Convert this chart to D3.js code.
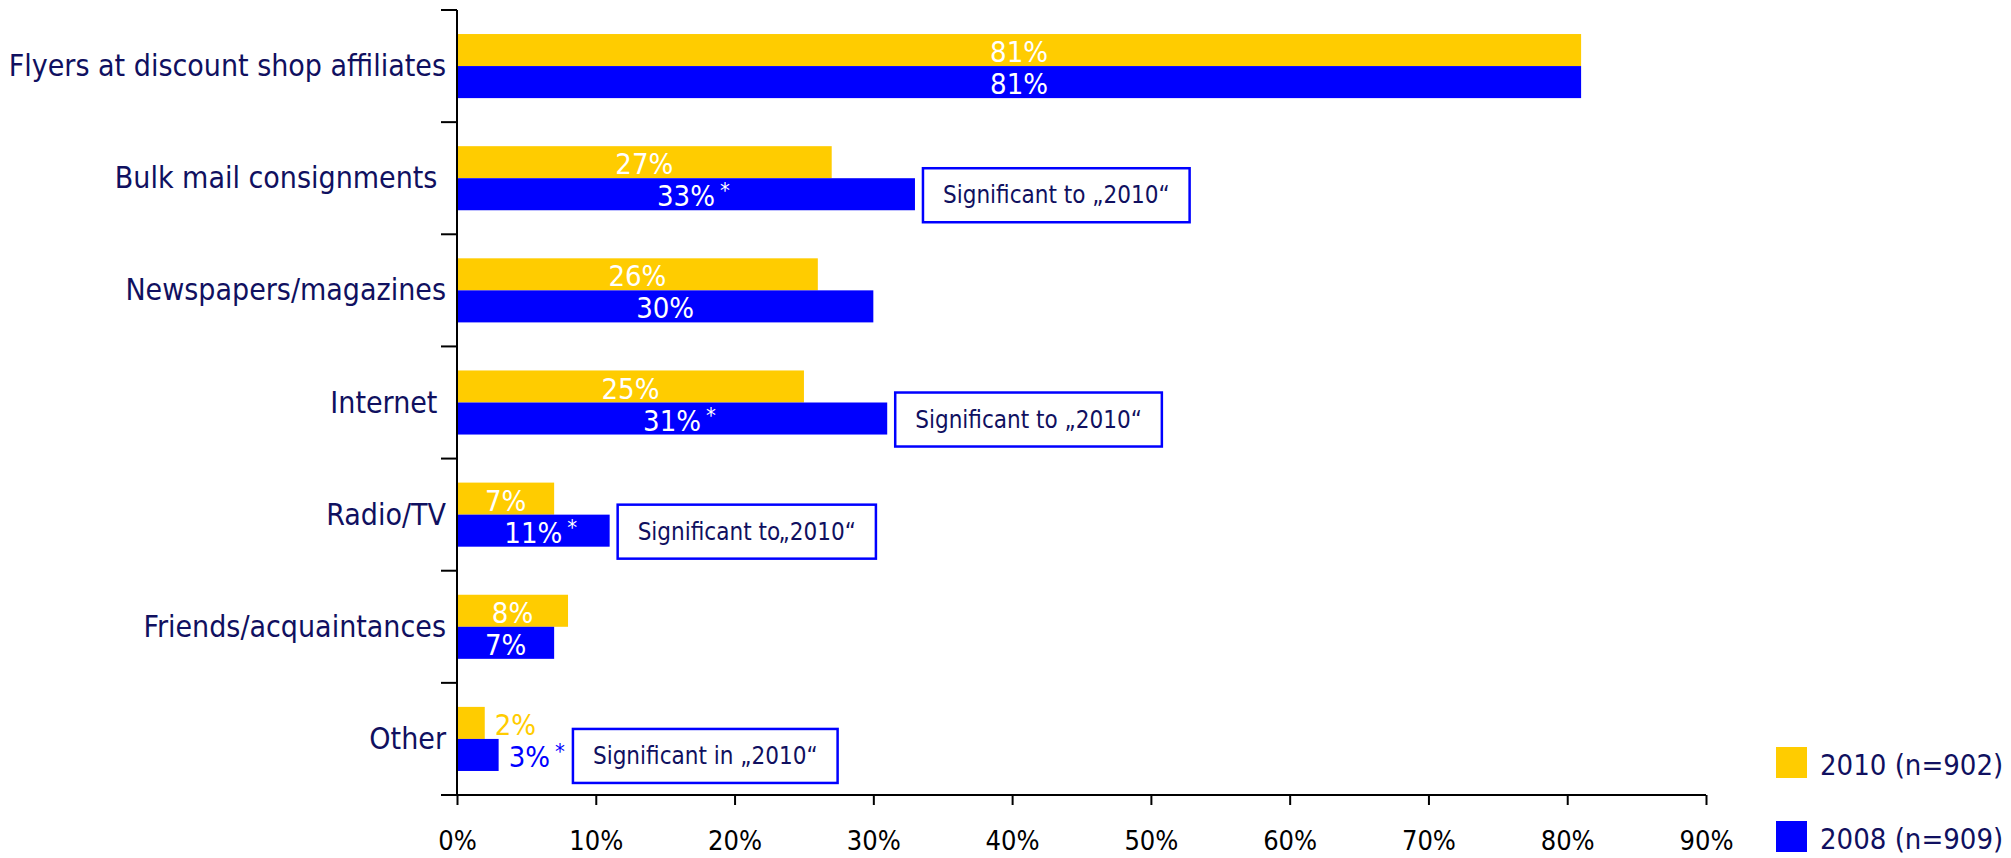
<!DOCTYPE html>
<html>
<head>
<meta charset="utf-8">
<script src="https://cdn.jsdelivr.net/npm/d3@7"></script>
<style>
  body { margin: 0; background: #fff; }
  svg { display: block; }
  text { font-family: "DejaVu Sans Condensed", "DejaVu Sans", sans-serif; }
</style>
</head>
<body>
<script>
// data
var categories = ["Flyers at discount shop affiliates", "Bulk mail consignments ", "Newspapers/magazines",
                  "Internet ", "Radio/TV", "Friends/acquaintances", "Other"];
var values2010 = [81, 27, 26, 25, 7, 8, 2];
var values2008 = [81, 33, 30, 31, 11, 7, 3];
var significant2008 = [false, true, false, true, true, false, true];
var seriesNames = ["2010 (n=902)", "2008 (n=909)"];
var xTicks = [0, 10, 20, 30, 40, 50, 60, 70, 80, 90];
var notes = [
  { category: "Bulk mail consignments ", text: "Significant to \u201E2010\u201C" },
  { category: "Internet ", text: "Significant to \u201E2010\u201C" },
  { category: "Radio/TV", text: "Significant to\u201E2010\u201C" },
  { category: "Other", text: "Significant in \u201E2010\u201C" }
];

var colors = ["#ffcc00", "#0000ff"];
var navy = "#101060";

var width = 2011, height = 858;

var svg = d3.select("body").append("svg")
    .attr("width", width)
    .attr("height", height);

// scales
var x = d3.scaleLinear().domain([0, 90]).range([457, 1706]);
var y = d3.scaleBand().domain(categories).range([10, 795]);
var ySub = d3.scaleBand().domain([0, 1]).range([0, y.bandwidth()]).paddingOuter(0.75);

var series = [values2010, values2008];

// bars
series.forEach(function(vals, s) {
  svg.append("g").selectAll("rect")
    .data(vals)
    .enter().append("rect")
      .attr("x", x(0))
      .attr("y", function(d, i) { return y(categories[i]) + ySub(s); })
      .attr("width", function(d) { return x(d) - x(0); })
      .attr("height", ySub.bandwidth())
      .attr("fill", colors[s]);
});

// value labels
var rightEdge = categories.map(function(c, i) { return x(values2008[i]); });

series.forEach(function(vals, s) {
  vals.forEach(function(v, i) {
    var top = y(categories[i]) + ySub(s);
    var inside = v >= 5;
    var lx = inside ? x(0) + (x(v) - x(0)) / 2 : x(v) + 10;
    var t = svg.append("text")
        .attr("x", lx)
        .attr("y", top + ySub.bandwidth() - 4)
        .attr("text-anchor", inside ? "middle" : "start")
        .attr("font-size", "29px")
        .attr("fill", inside ? "#fff" : colors[s])
        .text(v + "%");
    var w = t.node().getComputedTextLength();
    var end = inside ? lx + w / 2 : lx + w;
    if (s == 1 && significant2008[i]) {
      var a = svg.append("text")
          .attr("x", end + 5)
          .attr("y", top + 20)
          .attr("font-size", "22px")
          .attr("fill", inside ? "#fff" : colors[s])
          .text("*");
      end = end + 5 + a.node().getComputedTextLength();
    }
    if (s == 1 && !inside) rightEdge[i] = Math.max(rightEdge[i], end);
  });
});

// significance boxes
notes.forEach(function(n) {
  var i = categories.indexOf(n.category);
  var cy = y(n.category) + ySub(1) + ySub.bandwidth() / 2 + 1;
  var bx = rightEdge[i] + 8;
  var g = svg.append("g");
  var t = g.append("text")
      .attr("y", cy + 8)
      .attr("font-size", "24px")
      .attr("fill", navy)
      .text(n.text);
  var tw = t.node().getComputedTextLength();
  t.attr("x", bx + 20);
  g.insert("rect", "text")
      .attr("x", bx)
      .attr("y", cy - 27)
      .attr("width", tw + 40)
      .attr("height", 54)
      .attr("fill", "#fff")
      .attr("stroke", "#0000ff")
      .attr("stroke-width", 2.5);
});

// category labels
svg.append("g").selectAll("text")
  .data(categories)
  .enter().append("text")
    .attr("x", 446)
    .attr("y", function(d) { return y(d) + y.bandwidth() / 2 + 10; })
    .attr("text-anchor", "end")
    .attr("font-size", "30px")
    .attr("fill", navy)
    .style("white-space", "pre")
    .text(function(d) { return d; });

// y axis with ticks between categories
var bounds = categories.map(function(c) { return y(c); }).concat([y.range()[1]]);
svg.append("line")
    .attr("x1", x(0)).attr("x2", x(0))
    .attr("y1", y.range()[0]).attr("y2", y.range()[1])
    .attr("stroke", "#000").attr("stroke-width", 2);
svg.append("g").selectAll("line")
  .data(bounds)
  .enter().append("line")
    .attr("x1", x(0) - 16).attr("x2", x(0))
    .attr("y1", function(d) { return d; }).attr("y2", function(d) { return d; })
    .attr("stroke", "#000").attr("stroke-width", 2);

// x axis
var xAxisCall = d3.axisBottom(x)
    .tickValues(xTicks)
    .tickSize(10)
    .tickSizeOuter(0)
    .tickFormat(function(d) { return d + "%"; });
var xAxis = svg.append("g")
    .attr("transform", "translate(0," + y.range()[1] + ")")
    .call(xAxisCall);
xAxis.select(".domain").remove();
xAxis.selectAll(".tick line").attr("stroke", "#000").attr("stroke-width", 2);
xAxis.selectAll(".tick text")
    .attr("y", 55)
    .attr("dy", null)
    .attr("font-size", "27px")
    .attr("font-family", null)
    .attr("fill", "#000");
xAxis.append("line")
    .attr("x1", x(0) - 16).attr("x2", x(90))
    .attr("stroke", "#000").attr("stroke-width", 2);

// legend
var legend = svg.append("g").selectAll("g")
  .data(seriesNames)
  .enter().append("g")
    .attr("transform", function(d, i) { return "translate(1776," + (747 + i * 74) + ")"; });
legend.append("rect")
    .attr("width", 31).attr("height", 31)
    .attr("fill", function(d, i) { return colors[i]; });
legend.append("text")
    .attr("x", 44)
    .attr("y", 28)
    .attr("font-size", "29px")
    .attr("fill", navy)
    .text(function(d) { return d; });
</script>
</body>
</html>
